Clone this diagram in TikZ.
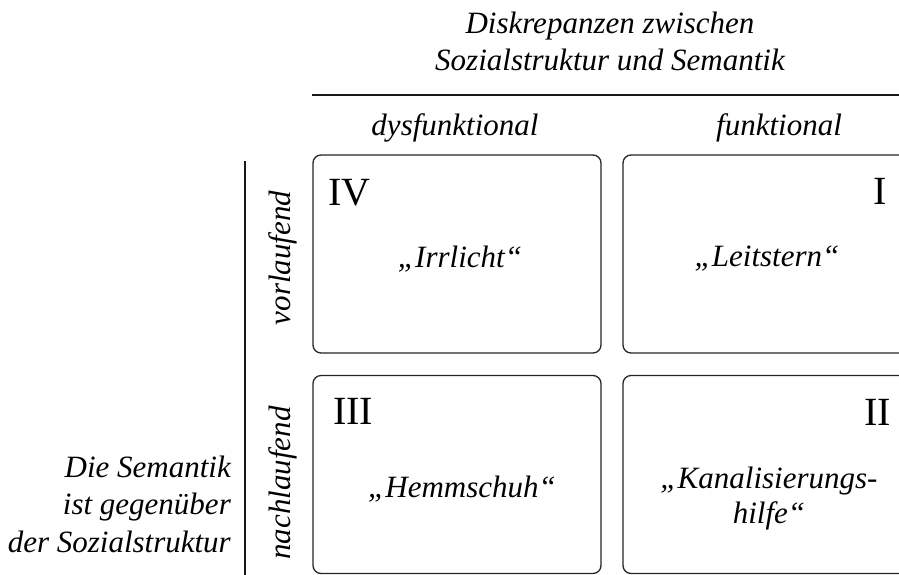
\documentclass[tikz,border=0pt]{standalone}
\usepackage{fontspec}
\setmainfont{Liberation Serif}
\begin{document}
\begin{tikzpicture}[x=1pt,y=-1pt,
  txt/.style={font=\fontsize{31}{37.5}\selectfont\itshape, inner sep=0pt},
  num/.style={font=\fontsize{40}{48}\selectfont, inner sep=0pt},
  quad/.style={draw=black!85, line width=1.3pt, rounded corners=8pt,
    minimum width=288pt, minimum height=198pt, inner sep=0pt},
  rule/.style={line width=1.4pt, draw=black!90}]
\clip (0,0) rectangle (899,574);
\fill[white] (0,0) rectangle (899,574);
% boxes
\node[quad] (bIV) at (457,254) {};
\node[quad] (bI) at (767,254) {};
\node[quad] (bIII) at (457,474.5) {};
\node[quad] (bII) at (767,474.5) {};
% rules
\coordinate (hl) at (312,95);
\coordinate (hr) at (899,95);
\draw[rule] (hl) -- (hr);
\coordinate (vt) at (245,161);
\coordinate (vb) at (245,576);
\draw[rule] (vt) -- (vb);
% title (base = last line)
\node[txt, align=center, anchor=base] (title) at (610,70.5)
  {Diskrepanzen zwischen\\Sozialstruktur und Semantik};
\node[txt, anchor=base] (dys) at (455,135) {dysfunktional};
\node[txt, anchor=base] (fun) at (779,135) {funktional};
% side labels
\node[txt, rotate=90] (vor) at (283,258) {vorlaufend};
\node[txt, rotate=90] (nach) at (283,483) {nachlaufend};
\node[txt, align=right, anchor=base east] (left) at (231,552)
  {Die Semantik\\ist gegenüber\\der Sozialstruktur};
% numerals
\node[num, anchor=base west] (nIV) at (328,205) {IV};
\node[num, anchor=base east] (nI) at (887,204) {I};
\node[num, anchor=base west] (nIII) at (333,424) {III};
\node[num, anchor=base east] (nII) at (891,425) {II};
% quotes
\node[txt, anchor=base] (q1) at (460,267) {„Irrlicht“};
\node[txt, anchor=base] (q2) at (767,266) {„Leitstern“};
\node[txt, anchor=base] (q3) at (462,497) {„Hemmschuh“};
\node[txt, anchor=base, align=center, font=\fontsize{31}{35}\selectfont\itshape] (q4) at (769,523)
  {„Kanalisierungs-\\hilfe“};
\end{tikzpicture}
\end{document}
